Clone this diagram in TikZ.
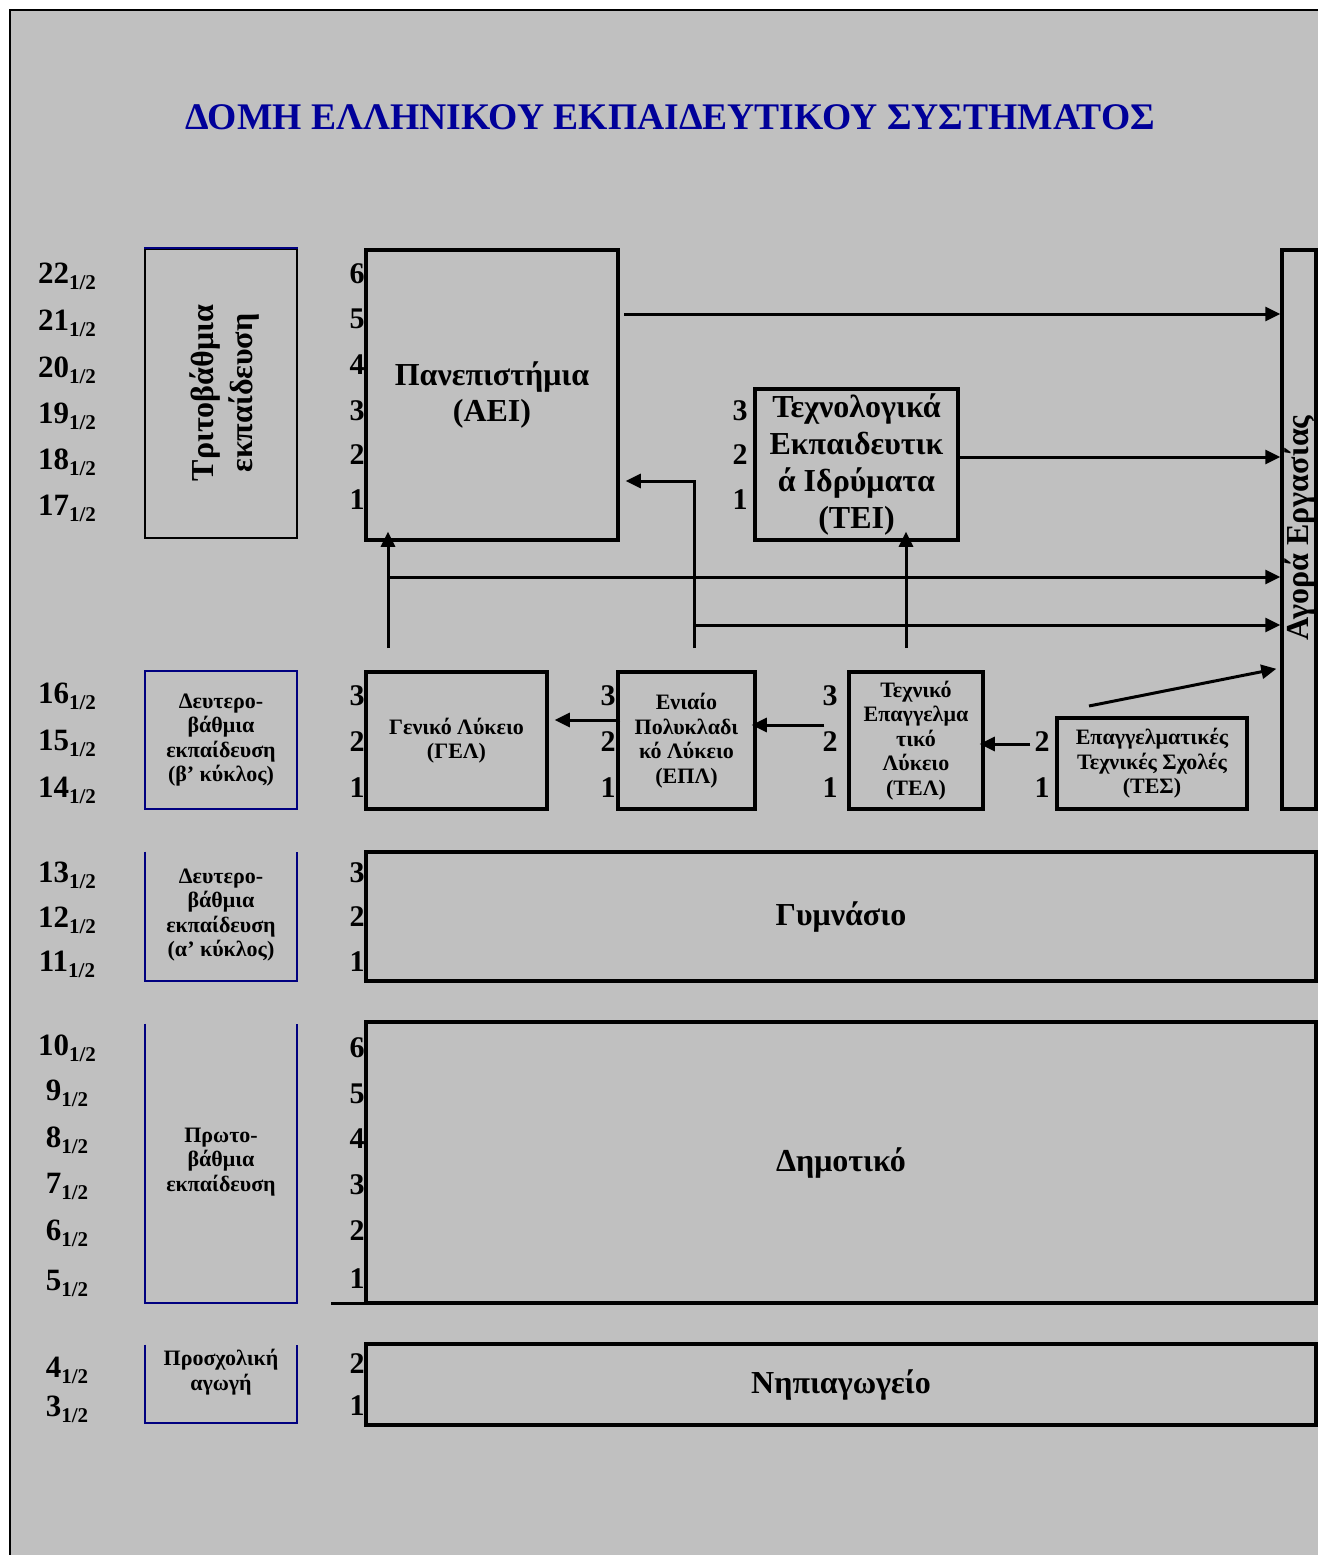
\documentclass[tikz,border=0pt]{standalone}
\usepackage{fontspec}
\setmainfont{Liberation Serif}
\usetikzlibrary{arrows.meta,calc}
\definecolor{bggray}{HTML}{C0C0C0}
\definecolor{titleblue}{HTML}{000099}
\definecolor{navyline}{HTML}{000080}
\newcommand{\agehalf}[1]{#1\raisebox{-3pt}{\fontsize{10.5}{12}\selectfont 1/2}}
\begin{document}
\begin{tikzpicture}[x=0.5pt,y=-0.5pt,
  box/.style={draw=black,line width=1.75pt,inner sep=0pt,align=center,font=\bfseries\fontsize{16}{18}\selectfont},
  smallbox/.style={box,font=\bfseries\fontsize{11}{12.25}\selectfont},
  catbox/.style={inner sep=0pt,minimum width=76pt},
  catline/.style={draw=navyline,line width=1pt},
  cattext/.style={align=center,inner sep=0pt,font=\bfseries\fontsize{11}{12.25}\selectfont},
  agelab/.style={anchor=base,inner sep=0pt,font=\bfseries\fontsize{15.5}{17}\selectfont},
  numlab/.style={anchor=base east,inner sep=0pt,font=\bfseries\fontsize{15}{17}\selectfont},
  arr/.style={line width=1.5pt,-{Triangle[length=7.5pt,width=7pt]}},
]
\useasboundingbox (0,0) rectangle (1318,1555);
\fill[white] (0,0) rectangle (1318,1555);
\fill[bggray] (10,10) rectangle (1318,1555);
\draw[line width=1.25pt] (10,1555) -- (10,10) -- (1318,10);

% title
\node[font=\bfseries\fontsize{18.8}{22}\selectfont,text=titleblue,inner sep=0pt] (title) at (670,117) {ΔΟΜΗ ΕΛΛΗΝΙΚΟΥ ΕΚΠΑΙΔΕΥΤΙΚΟΥ ΣΥΣΤΗΜΑΤΟΣ};

% ages
\foreach \a/\yy in {22/283,21/330,20/377,19/423,18/469,17/515,16/703,15/750,14/797,13/882,12/927,11/971,10/1055,9/1100,8/1147,7/1193,6/1240,5/1290,4/1377,3/1416}
  \node[agelab] (age\a) at (67,\yy) {\agehalf{\a}};

% category boxes
\node[catbox,minimum height=144.5pt,draw=black,line width=1pt] (cat3) at (221,393.5) {};
\draw[catline] (cat3.north west) -- (cat3.north east);
\node[rotate=90,align=center,inner sep=0pt,font=\bfseries\fontsize{16}{19.5}\selectfont] (cat3lab) at (225,393) {Τριτοβάθμια\\εκπαίδευση};

\node[catbox,minimum height=69pt,draw=navyline,line width=1pt,cattext] (cat2b) at (221,740) {Δευτερο-\\βάθμια\\εκπαίδευση\\(β’ κύκλος)};

\node[catbox,minimum height=64.5pt] (cat2a) at (221,916.5) {};
\draw[catline] (cat2a.north west) -- (cat2a.south west) -- (cat2a.south east) -- (cat2a.north east);
\node[cattext] (cat2alab) at (221,915) {Δευτερο-\\βάθμια\\εκπαίδευση\\(α’ κύκλος)};

\node[catbox,minimum height=139.5pt] (cat1) at (221,1163.5) {};
\draw[catline] (cat1.north west) -- (cat1.south west) -- (cat1.south east) -- (cat1.north east);
\node[cattext] (cat1lab) at (221,1162) {Πρωτο-\\βάθμια\\εκπαίδευση};

\node[catbox,minimum height=39pt] (cat0) at (221,1384) {};
\draw[catline] (cat0.north west) -- (cat0.south west) -- (cat0.south east) -- (cat0.north east);
\node[cattext] (cat0lab) at (221,1372) {Προσχολική\\αγωγή};

% main boxes
\node[box,minimum width=126pt,minimum height=145pt] (aei) at (492,395) {Πανεπιστήμια\\(ΑΕΙ)};
\node[box,minimum width=101.5pt,minimum height=75.5pt,font=\bfseries\fontsize{16}{18.5}\selectfont] (tei) at (856.5,464.5) {Τεχνολογικά\\Εκπαιδευτικ\\ά Ιδρύματα\\(ΤΕΙ)};
\node[box,minimum width=17pt,minimum height=279.5pt] (market) at (1299,529.5) {};
\node[rotate=90,inner sep=0pt,font=\bfseries\fontsize{16}{18}\selectfont] (marketlab) at (1300,528) {Αγορά Εργασίας};

\node[smallbox,minimum width=90.5pt,minimum height=68.5pt] (gel) at (456.5,740.5) {Γενικό Λύκειο\\(ΓΕΛ)};
\node[smallbox,minimum width=68.5pt,minimum height=68.5pt] (epl) at (686.5,740.5) {Ενιαίο\\Πολυκλαδι\\κό Λύκειο\\(ΕΠΛ)};
\node[smallbox,minimum width=67pt,minimum height=68.5pt] (tel) at (916,740.5) {Τεχνικό\\Επαγγελμα\\τικό\\Λύκειο\\(ΤΕΛ)};
\node[smallbox,minimum width=95pt,minimum height=45.5pt] (tes) at (1152,763.5) {Επαγγελματικές\\Τεχνικές Σχολές\\(ΤΕΣ)};

\node[box,minimum width=475pt,minimum height=64.5pt] (gym) at (841,916.5) {Γυμνάσιο};
\node[box,minimum width=475pt,minimum height=140.5pt] (dim) at (841,1162.5) {Δημοτικό};
\draw[line width=1.75pt] (dim.south west) ++(0,-1.5) -- ++(-33,0);
\node[box,minimum width=475pt,minimum height=40.5pt] (nip) at (841,1384.5) {Νηπιαγωγείο};

% year numbers
\foreach \n/\yy in {6/283,5/328,4/374,3/420,2/464,1/509}
  \node[numlab] (naei\n) at (365,\yy) {\n};
\foreach \n/\yy in {3/420,2/464,1/509}
  \node[numlab] (ntei\n) at (748,\yy) {\n};
\foreach \n/\yy in {3/705,2/751,1/797}{
  \node[numlab] (ngel\n) at (365,\yy) {\n};
  \node[numlab] (nepl\n) at (616,\yy) {\n};
  \node[numlab] (ntel\n) at (838,\yy) {\n};
}
\foreach \n/\yy in {2/751,1/797}
  \node[numlab] (ntes\n) at (1050,\yy) {\n};
\foreach \n/\yy in {3/882,2/926,1/971}
  \node[numlab] (ngym\n) at (365,\yy) {\n};
\foreach \n/\yy in {6/1057,5/1103,4/1148,3/1194,2/1240,1/1288}
  \node[numlab] (ndim\n) at (365,\yy) {\n};
\foreach \n/\yy in {2/1373,1/1415}
  \node[numlab] (nnip\n) at (365,\yy) {\n};

% helper coordinates
\coordinate (h457) at (0,457);
\coordinate (h481) at (0,481);
\coordinate (h577) at (0,577);
\coordinate (h625) at (0,625);
\coordinate (h668) at (0,668);
\coordinate (h720) at (0,720);
\coordinate (h725) at (0,725);
\coordinate (h744) at (0,744);
\coordinate (g1) at (388,648);
\coordinate (g2) at (694,648);
\coordinate (g3) at (906,648);
\coordinate (s1) at (624,314);
\coordinate (d1) at (1089,706);

% connectors
\draw[arr] (s1) -- (s1 -| market.west);
\draw[arr] (tei.east |- h457) -- (market.west |- h457);
\draw[arr,shorten >=-5pt] (g1) -- (g1 |- aei.south);
\draw[arr] (g1 |- h577) -- (market.west |- h577);
\draw[arr,shorten >=3pt] (g2) |- (aei.east |- h481);
\draw[arr] (g2 |- h625) -- (market.west |- h625);
\draw[arr,shorten >=-5pt] (g3) -- (g3 |- tei.south);
\draw[arr,shorten <=-2pt,shorten >=3pt] (epl.west |- h720) -- (gel.east |- h720);
\draw[arr,shorten <=11.5pt,shorten >=-2.5pt] (tel.west |- h725) -- (epl.east |- h725);
\draw[arr,shorten <=12.5pt,shorten >=-2.5pt] (tes.west |- h744) -- (tel.east |- h744);
\draw[arr,shorten >=2pt] (d1) -- (market.west |- h668);
\end{tikzpicture}
\end{document}
